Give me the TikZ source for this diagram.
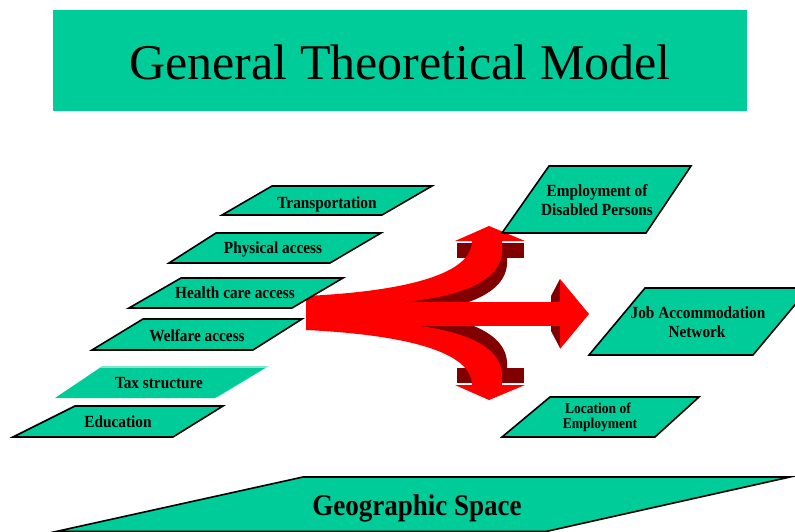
\documentclass[tikz,border=0pt]{standalone}
\usepackage{fontspec}
\setmainfont{Liberation Serif}
\definecolor{tealA}{RGB}{0,204,153}
\definecolor{darkredA}{RGB}{128,0,0}
\definecolor{mintA}{RGB}{130,232,205}
\begin{document}
\begin{tikzpicture}[x=1pt,y=-1pt,
  plane/.style={fill=tealA, draw=black, line width=1.6pt, line join=miter},
  lbl/.style={font=\bfseries\fontsize{17}{19}\selectfont, xscale=0.9, anchor=base, inner sep=0pt},
  smalllbl/.style={font=\bfseries\fontsize{15}{17}\selectfont, xscale=0.9, anchor=base, inner sep=0pt},
  biglbl/.style={font=\bfseries\fontsize{30}{32}\selectfont, xscale=0.9, anchor=base, inner sep=0pt},
  titlelbl/.style={font=\fontsize{50}{54}\selectfont, anchor=base, inner sep=0pt},
  redfill/.style={fill=red, draw=none},
  darkfill/.style={fill=darkredA, draw=none}]
\clip (0,0) rectangle (795,531);

% title
\fill[tealA] (53,10) rectangle (747,111);
\node[titlelbl] (title) at (400,79) {General Theoretical Model};

% ---------- arrow ----------
\def\branchbody{(306,296) .. controls (390,292) and (472,278) .. (472,241) -- (502,241) -- (502,252) .. controls (500,288) and (440,302) .. (370,304) -- (306,304) -- cycle}
\def\branchfull{(306,296) .. controls (390,292) and (472,278) .. (472,241) -- (455,241) -- (489,226) -- (525,241) -- (502,241) -- (502,252) .. controls (500,288) and (440,302) .. (370,304) -- (306,304) -- cycle}
% dark depth, upper
\begin{scope}[shift={(5,12)}]
  \fill[darkfill] \branchbody;
\end{scope}
\fill[darkfill] (457,243) rectangle (524,258);
% dark depth, lower (mirror)
\begin{scope}[shift={(0,626)}, yscale=-1]
  \begin{scope}[shift={(5,12)}]
    \fill[darkfill] \branchbody;
  \end{scope}
  \fill[darkfill] (457,243) rectangle (524,258);
\end{scope}
% dark sliver of main head
\fill[darkfill] (560,279) -- (551,296) -- (551,331) -- (560,348) -- cycle;
% red branches
\fill[redfill] \branchfull;
\begin{scope}[shift={(0,626)}, yscale=-1]
  \fill[redfill] \branchfull;
\end{scope}
% red shaft and head
\fill[redfill] (306,302) rectangle (561,326);
\fill[redfill] (560,279) -- (589,314) -- (560,349) -- cycle;

% ---------- left planes ----------
\draw[plane] (272,186) -- (432,186) -- (382,215) -- (222,215) -- cycle;
\node[lbl] (transport) at (327,208) {Transportation};

\draw[plane] (216,233) -- (381,233) -- (330,263) -- (169,263) -- cycle;
\node[lbl] (physical) at (273,253) {Physical access};

\draw[plane] (181,278) -- (343,278) -- (292,308) -- (129,308) -- cycle;
\node[lbl] (health) at (235,298) {Health care access};

\draw[plane] (143,319) -- (302,319) -- (253,350) -- (92,350) -- cycle;
\node[lbl] (welfare) at (197,341) {Welfare access};

\fill[mintA] (102,366) -- (269,366) -- (218,397) -- (57,397) -- cycle;
\fill[tealA] (100,368) -- (265,368) -- (215,398) -- (55,398) -- cycle;
\node[lbl] (tax) at (159,388) {Tax structure};

\draw[plane] (75,406) -- (223,406) -- (173,437) -- (13,437) -- cycle;
\node[lbl] (education) at (118,427) {Education};

% ---------- right planes ----------
\draw[plane] (549,166) -- (691,166) -- (646,233) -- (502,233) -- cycle;
\node[lbl] (emp1) at (597,196) {Employment of};
\node[lbl] (emp2) at (597,215) {Disabled Persons};

\draw[plane] (645,288) -- (809,288) -- (753,355) -- (589,355) -- cycle;
\node[lbl] (jan1) at (698,318) {Job Accommodation};
\node[lbl] (jan2) at (697,337) {Network};

\draw[plane] (550,397) -- (699,397) -- (655,437) -- (502,437) -- cycle;
\node[smalllbl] (loc1) at (598,413) {Location of};
\node[smalllbl] (loc2) at (600,428) {Employment};

% ---------- geographic space ----------
\draw[plane] (303,477) -- (790,477) -- (546,531.5) -- (56,531.5) -- cycle;
\node[biglbl] (geo) at (417,515) {Geographic Space};
\end{tikzpicture}
\end{document}
